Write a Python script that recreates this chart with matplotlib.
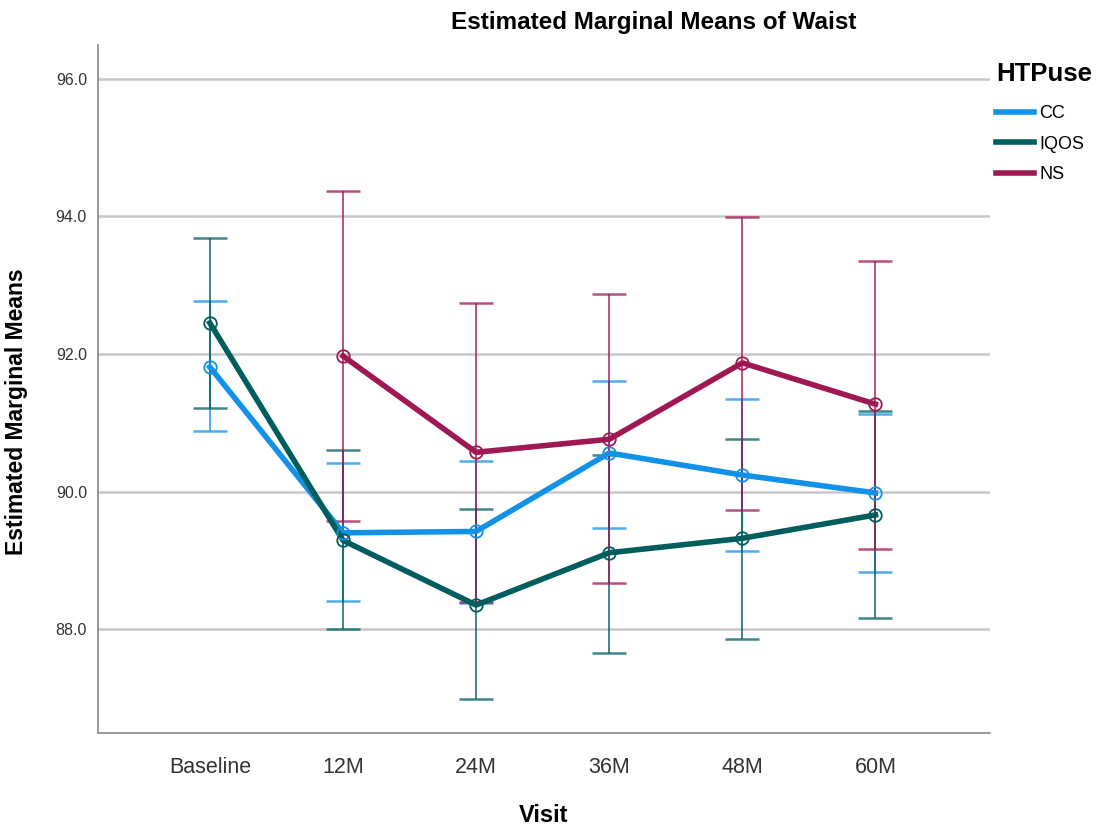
import numpy as np
import matplotlib
matplotlib.use('Agg')
import matplotlib.pyplot as plt
from matplotlib.lines import Line2D

plt.rcParams['font.family'] = ['Liberation Sans', 'DejaVu Sans']

# data
visits = ['Baseline', '12M', '24M', '36M', '48M', '60M']

cc_mean = [91.81, 89.40, 89.42, 90.56, 90.24, 89.98]
cc_low = [90.88, 88.41, 88.38, 89.47, 89.13, 88.83]
cc_high = [92.77, 90.41, 90.44, 91.61, 91.35, 91.13]

iqos_mean = [92.45, 89.29, 88.35, 89.11, 89.32, 89.66]
iqos_low = [91.21, 88.00, 86.98, 87.66, 87.85, 88.16]
iqos_high = [93.69, 90.60, 89.75, 90.53, 90.76, 91.17]

# NS has no baseline estimate
ns_mean = [np.nan, 91.97, 90.57, 90.76, 91.87, 91.27]
ns_low = [np.nan, 89.57, 88.39, 88.67, 89.73, 89.16]
ns_high = [np.nan, 94.37, 92.74, 92.87, 93.99, 93.35]

groups = ['CC', 'IQOS', 'NS']
colors = ['#1192e8', '#005d5d', '#9f1853']

fig = plt.figure(figsize=(11.04, 8.33), dpi=100)
ax = fig.add_axes([0.0888, 0.12, 0.8079, 0.826])

x = np.arange(len(visits))
series = [(cc_mean, cc_low, cc_high), (iqos_mean, iqos_low, iqos_high),
          (ns_mean, ns_low, ns_high)]

# error bars first, then the mean lines on top
for (m, lo, hi), c in zip(series, colors):
    m = np.array(m); lo = np.array(lo); hi = np.array(hi)
    ax.errorbar(x, m, yerr=[m - lo, hi - m], fmt='none', ecolor=c,
                elinewidth=1.4, capsize=12, capthick=1.8, alpha=0.75, zorder=2)
for (m, lo, hi), c in zip(series, colors):
    ax.plot(x, m, color=c, lw=4, zorder=3)
    ax.plot(x, m, 'o', mfc='none', mec=c, ms=9, mew=1.3, zorder=4)

ax.set_xlim(-0.84, 5.86)
ax.set_ylim(86.49, 96.49)
ax.set_yticks([88, 90, 92, 94, 96])
ax.set_yticklabels(['88.0', '90.0', '92.0', '94.0', '96.0'])
ax.set_xticks(x)
ax.set_xticklabels(visits, fontsize=15.5)
ax.tick_params(axis='y', labelsize=11.5, length=0, pad=8, colors='#333333')
ax.tick_params(axis='x', length=0, pad=17, colors='#333333')
ax.yaxis.grid(True, color='#c8c8c8', lw=1.8, zorder=0)
ax.set_axisbelow(True)
for s in ['top', 'right']:
    ax.spines[s].set_visible(False)
for s in ['left', 'bottom']:
    ax.spines[s].set_color('#888888')
    ax.spines[s].set_linewidth(1.2)

ax.set_xlabel('Visit', fontsize=17, fontweight='bold', labelpad=19)
ax.set_ylabel('Estimated Marginal Means', fontsize=16.5, fontweight='bold')
ax.yaxis.set_label_coords(-0.078, 0.467)

fig.text(0.592, 0.973, 'Estimated Marginal Means of Waist', ha='center', va='center',
         fontsize=17.5, fontweight='bold')

handles = [Line2D([], [], color=c, lw=4) for c in colors]
leg = fig.legend(handles, groups, title='HTPuse', loc='upper left',
                 bbox_to_anchor=(0.902, 0.926), frameon=False, fontsize=13,
                 handlelength=2.1, handletextpad=0.3, labelspacing=0.75,
                 borderpad=0, borderaxespad=0)
leg.get_title().set_fontsize(18.5)
leg.get_title().set_fontweight('bold')
leg._legend_box.align = 'left'
leg._legend_box.sep = 14

fig.savefig('out.png', dpi=100)
